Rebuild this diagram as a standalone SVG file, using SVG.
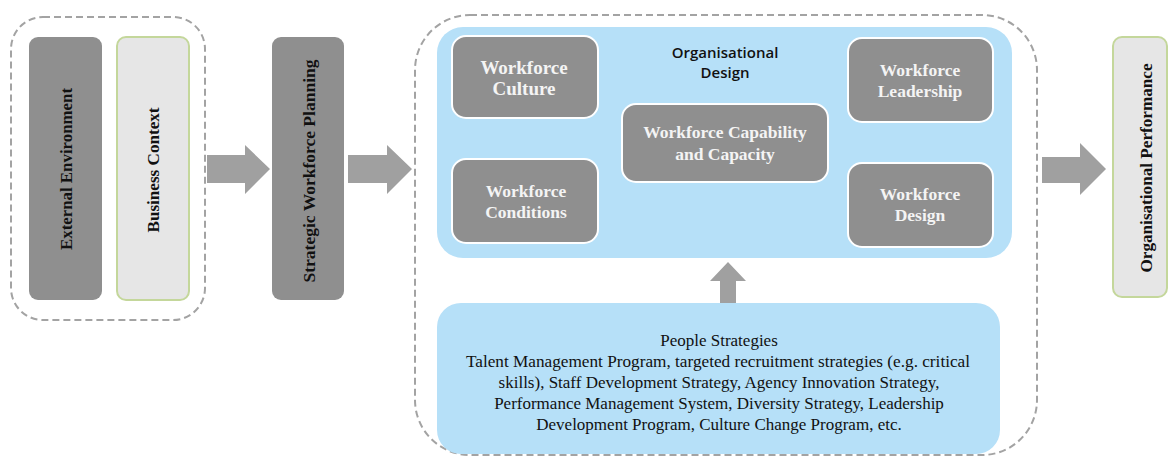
<svg xmlns="http://www.w3.org/2000/svg" width="1170" height="459" viewBox="0 0 1170 459">
<style>
.dash{fill:none;stroke:#a3a3a3;stroke-width:2;stroke-dasharray:7 4}
.dark{fill:#8f8f8f}
.inner{fill:#8f8f8f;stroke:#ffffff;stroke-width:2}
.light{fill:#e6e6e6;stroke:#c4d79b;stroke-width:2}
.blue{fill:#b6e0f8}
.arrow{fill:#a0a0a0}
.vt{font-family:"Liberation Serif",serif;font-weight:bold;font-size:17px;fill:#111;text-anchor:middle}
.wt{font-family:"Liberation Serif",serif;font-weight:bold;font-size:17.5px;fill:#f4f4f4;text-anchor:middle}
.big{font-size:19px}
.st{font-family:"Open Sans","Liberation Sans",sans-serif;font-weight:600;font-size:15px;fill:#111;text-anchor:middle}
.pt{font-family:"Liberation Serif",serif;font-size:17px;fill:#111;text-anchor:middle}
</style>
<rect width="1170" height="459" fill="#ffffff"/>
<g id="context-group">
<rect class="dash" x="11" y="17" width="194" height="303" rx="32"/>
</g>
<g id="external-environment">
<rect class="dark" x="29" y="37" width="73" height="263" rx="9"/>
<text class="vt" transform="translate(72,169) rotate(-90)" textLength="162" lengthAdjust="spacingAndGlyphs">External  Environment</text>
</g>
<g id="business-context">
<rect class="light" x="117" y="37" width="72" height="263" rx="9"/>
<text class="vt" transform="translate(159,170) rotate(-90)" textLength="125" lengthAdjust="spacingAndGlyphs">Business Context</text>
</g>
<g id="strategic-workforce-planning">
<rect class="dark" x="272" y="37" width="72" height="263" rx="9"/>
<text class="vt" transform="translate(315,171) rotate(-90)" textLength="223" lengthAdjust="spacingAndGlyphs">Strategic Workforce Planning</text>
</g>
<g id="main-group">
<rect class="dash" x="415" y="15" width="622" height="440" rx="55"/>
</g>
<g id="organisational-design">
<rect class="blue" x="437" y="27" width="575" height="231" rx="26"/>
<text class="st" x="725" y="58">Organisational</text>
<text class="st" x="725" y="78">Design</text>
</g>
<g id="workforce-culture">
<rect class="inner" x="452" y="36" width="146" height="82" rx="14"/>
<text class="wt big" x="524" y="74">Workforce</text>
<text class="wt big" x="524" y="95">Culture</text>
</g>
<g id="workforce-conditions">
<rect class="inner" x="452" y="159" width="146" height="84" rx="14"/>
<text class="wt" x="526" y="197">Workforce</text>
<text class="wt" x="526" y="218">Conditions</text>
</g>
<g id="workforce-capability">
<rect class="inner" x="622" y="104" width="206" height="78" rx="14"/>
<text class="wt" x="725" y="138">Workforce Capability</text>
<text class="wt" x="725" y="160">and  Capacity</text>
</g>
<g id="workforce-leadership">
<rect class="inner" x="848" y="38" width="145" height="84" rx="14"/>
<text class="wt" x="920" y="76">Workforce</text>
<text class="wt" x="920" y="97">Leadership</text>
</g>
<g id="workforce-design">
<rect class="inner" x="848" y="163" width="145" height="84" rx="14"/>
<text class="wt" x="920" y="200">Workforce</text>
<text class="wt" x="920" y="221">Design</text>
</g>
<g id="people-strategies">
<rect class="blue" x="437" y="303" width="563" height="151" rx="24"/>
<text class="pt" x="719" y="346">People Strategies</text>
<text class="pt" x="718" y="367" textLength="504" lengthAdjust="spacingAndGlyphs">Talent Management Program, targeted recruitment strategies (e.g. critical</text>
<text class="pt" x="719" y="388">skills), Staff Development Strategy, Agency Innovation Strategy,</text>
<text class="pt" x="719" y="409">Performance Management System, Diversity Strategy, Leadership</text>
<text class="pt" x="719" y="430">Development Program, Culture Change Program, etc.</text>
</g>
<g id="organisational-performance">
<rect class="light" x="1113" y="37" width="54" height="260" rx="9"/>
<text class="vt" transform="translate(1152,168) rotate(-90)" textLength="209" lengthAdjust="spacingAndGlyphs">Organisational Performance</text>
</g>
<g id="connectors">
<polygon class="arrow" points="207,155 245,155 245,145 270,169 245,194 245,183 207,183"/>
<polygon class="arrow" points="348,155 387,155 387,145 412,169 387,194 387,183 348,183"/>
<polygon class="arrow" points="1042,157 1080,157 1080,143 1106,169 1080,195 1080,183 1042,183"/>
<polygon class="arrow" points="720,303 720,281 710,281 728,262 746,281 736,281 736,303"/>
</g>
</svg>
